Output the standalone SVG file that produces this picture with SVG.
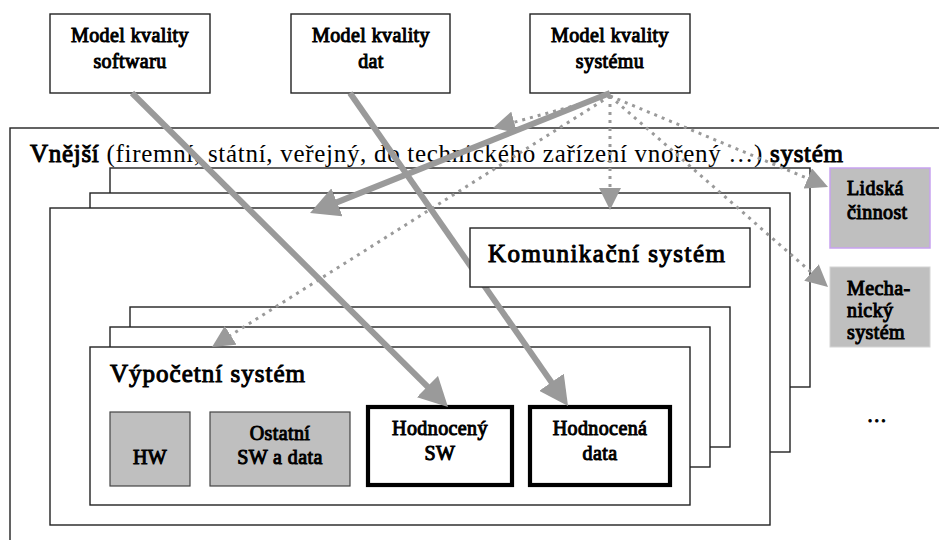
<svg xmlns="http://www.w3.org/2000/svg" width="939" height="540" viewBox="0 0 939 540">
  <style>
    .box { fill: #ffffff; stroke: #222222; stroke-width: 1.4; }
    .thick { fill: #ffffff; stroke: #000000; stroke-width: 4.2; }
    .grey { fill: #bfbfbf; stroke: #444444; stroke-width: 1.2; }
    /* serif labels, emboldened with a thin outline */
    .lbl { font-family: "Liberation Serif", "Times New Roman", serif; font-size: 20px; fill: #000000; stroke: #000000; stroke-width: 1; letter-spacing: 0.4px; }
    .mid { text-anchor: middle; }
    .big { font-family: "Liberation Serif", "Times New Roman", serif; font-size: 25px; fill: #000000; }
    .b { stroke: #000000; stroke-width: 1; }
    .solid { stroke: #9a9a9a; stroke-width: 6; fill: none; marker-end: url(#solidHead); }
    .dots { stroke: #9a9a9a; stroke-width: 3; stroke-dasharray: 3 5; fill: none; marker-end: url(#dotHead); }
  </style>
  <defs>
    <marker id="solidHead" markerUnits="userSpaceOnUse" markerWidth="29" markerHeight="30" viewBox="0 0 29 30" refX="9" refY="15" orient="auto">
      <path d="M0,0 L29,15 L0,30 z" fill="#9a9a9a"/>
    </marker>
    <marker id="dotHead" markerUnits="userSpaceOnUse" markerWidth="22" markerHeight="22" viewBox="0 0 22 22" refX="12" refY="11" orient="auto">
      <path d="M0,0 L22,11 L0,22 z" fill="#9a9a9a"/>
    </marker>
  </defs>
  <rect width="939" height="540" fill="#ffffff"/>

  <!-- quality models -->
  <g id="model-software">
    <rect class="box" x="50" y="14" width="160" height="79"/>
    <text class="lbl mid" x="130" y="42">Model kvality</text>
    <text class="lbl mid" x="130" y="68">softwaru</text>
  </g>
  <g id="model-data">
    <rect class="box" x="291" y="14" width="159" height="79"/>
    <text class="lbl mid" x="371" y="42">Model kvality</text>
    <text class="lbl mid" x="371" y="68">dat</text>
  </g>
  <g id="model-system">
    <rect class="box" x="530" y="14" width="160" height="79"/>
    <text class="lbl mid" x="610" y="42">Model kvality</text>
    <text class="lbl mid" x="610" y="68">systému</text>
  </g>

  <!-- outer (embedding) system -->
  <g id="outer-system">
    <rect class="box" x="10" y="128" width="940" height="430"/>
    <text class="big" x="30" y="162" textLength="813" lengthAdjust="spacing"><tspan class="b">Vnější</tspan> (firemní, státní, veřejný, do technického zařízení vnořený …) <tspan class="b">systém</tspan></text>
  </g>

  <!-- stack of communication systems -->
  <g id="comm-stack">
    <rect class="box" x="110" y="168" width="700" height="219"/>
    <rect class="box" x="90" y="193" width="700" height="259"/>
    <rect class="box" x="50" y="208" width="720" height="317"/>
  </g>

  <!-- stack of computing systems -->
  <g id="computing-system">
    <rect class="box" x="130" y="307" width="600" height="140"/>
    <rect class="box" x="110" y="327" width="600" height="140"/>
    <rect class="box" x="90" y="347" width="600" height="158"/>
    <text class="big b" x="110" y="382" textLength="195" lengthAdjust="spacing">Výpočetní systém</text>
  </g>

  <g id="hw">
    <rect class="grey" x="110" y="412" width="80" height="74"/>
    <text class="lbl mid" x="150" y="464">HW</text>
  </g>
  <g id="other-sw">
    <rect class="grey" x="210" y="412" width="140" height="74"/>
    <text class="lbl mid" x="280" y="440">Ostatní</text>
    <text class="lbl mid" x="280" y="464">SW a data</text>
  </g>
  <g id="evaluated-sw">
    <rect class="thick" x="368" y="407" width="144" height="78"/>
    <text class="lbl mid" x="440" y="435">Hodnocený</text>
    <text class="lbl mid" x="440" y="460">SW</text>
  </g>
  <g id="evaluated-data">
    <rect class="thick" x="530" y="407" width="140" height="78"/>
    <text class="lbl mid" x="600" y="435">Hodnocená</text>
    <text class="lbl mid" x="600" y="460">data</text>
  </g>

  <!-- connectors -->
  <g id="connectors">
    <line class="dots" x1="610" y1="96" x2="502.6" y2="125.4"/>
    <line class="dots" x1="610" y1="96" x2="220.5" y2="341.7"/>
    <line class="dots" x1="610" y1="96" x2="610" y2="200"/>
    <line class="dots" x1="610" y1="96" x2="818.8" y2="183.1"/>
    <line class="dots" x1="610" y1="96" x2="820.5" y2="280.4"/>
    <line class="solid" x1="132" y1="93" x2="433.8" y2="392.9"/>
    <line class="solid" x1="350" y1="93" x2="556.6" y2="389.6"/>
    <line class="solid" x1="610" y1="93" x2="328.6" y2="205.6"/>
  </g>

  <g id="comm-system">
    <rect class="box" x="470" y="228" width="280" height="59"/>
    <text class="big b" x="488" y="262" textLength="237" lengthAdjust="spacing">Komunikační systém</text>
  </g>

  <g id="human-activity">
    <rect x="830" y="168" width="100" height="80" fill="#bfbfbf" stroke="#c8a2f0" stroke-width="1.5"/>
    <text class="lbl" x="847" y="195">Lidská</text>
    <text class="lbl" x="847" y="219">činnost</text>
  </g>
  <g id="mechanical-system">
    <rect x="830" y="267" width="100" height="80" fill="#bfbfbf" stroke="#d4d4d4" stroke-width="1"/>
    <text class="lbl" x="847" y="295">Mecha-</text>
    <text class="lbl" x="847" y="317">nický</text>
    <text class="lbl" x="847" y="339">systém</text>
  </g>
  <g id="more">
    <text class="lbl mid" x="877" y="422">…</text>
  </g>
</svg>
